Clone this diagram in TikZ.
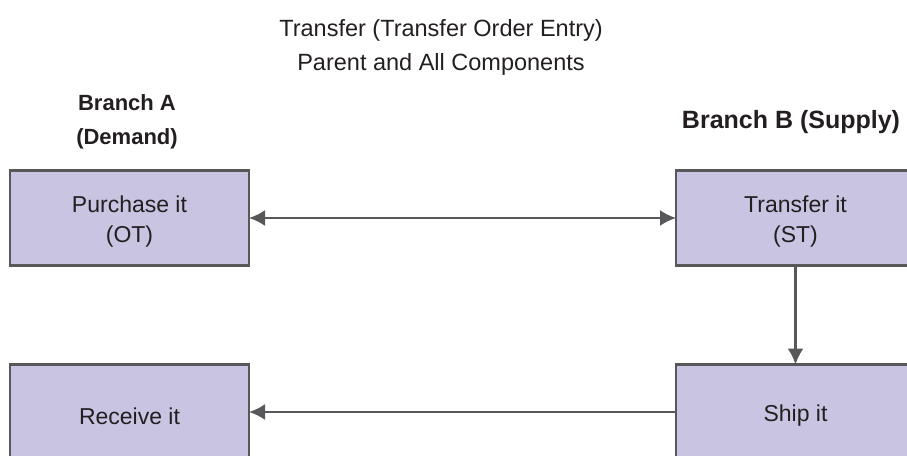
\documentclass[tikz,border=0pt]{standalone}
\usepackage{fontspec}
\setmainfont{Liberation Sans}
\usetikzlibrary{positioning,arrows.meta}
\definecolor{boxfill}{HTML}{C8C4E1}
\definecolor{boxline}{HTML}{58585A}
\definecolor{inktext}{HTML}{231F20}
\tikzset{
    stepbox/.style ={
        shape=rectangle,
        draw=boxline,
        fill=boxfill,
        line width=2.5pt,
        minimum width=239pt,
        minimum height=95pt,
        outer sep=0pt
    },
    steptext/.style ={
        text=inktext,
        align=center,
        yshift=-4pt,
        font=\fontsize{23}{30}\selectfont
    },
    heading/.style ={
        text=inktext,
        align=center,
        font=\fontsize{23.5}{34}\selectfont
    },
    branch/.style ={
        text=inktext,
        align=center,
        font=\bfseries\fontsize{22}{34}\selectfont
    },
    link/.style ={
        draw=boxline,
        line width=2.2pt,
        >={Latex[length=16pt,width=16pt]}
    }
}
\begin{document}
\begin{tikzpicture}[x=1pt,y=-1pt]
    \useasboundingbox (0,0) rectangle (907,455);
    \clip (0,0) rectangle (907,455);
    \node[heading] (title) at (441,47) {Transfer (Transfer Order Entry)\\Parent and All Components};
    \node[stepbox,label={[steptext]center:Purchase it\\(OT)}] (purchase) at (129.5,218) {};
    \node[stepbox,right=427pt of purchase,label={[steptext]center:Transfer it\\(ST)}] (transfer) {};
    \node[stepbox,below=99pt of transfer,label={[steptext]center:Ship it}] (ship) {};
    \node[stepbox,below=99pt of purchase,label={[steptext]center:Receive it}] (receive) {};
    \node[branch] (branchA) at (127,122) {Branch A\\(Demand)};
    \node[branch,font=\bfseries\fontsize{25}{34}\selectfont] (branchB) at (791,122) {Branch B (Supply)};
    \draw[link,<->] (purchase) -- (transfer);
    \draw[link,->] (transfer) -- (ship);
    \draw[link,->] (ship) -- (receive);
\end{tikzpicture}
\end{document}
